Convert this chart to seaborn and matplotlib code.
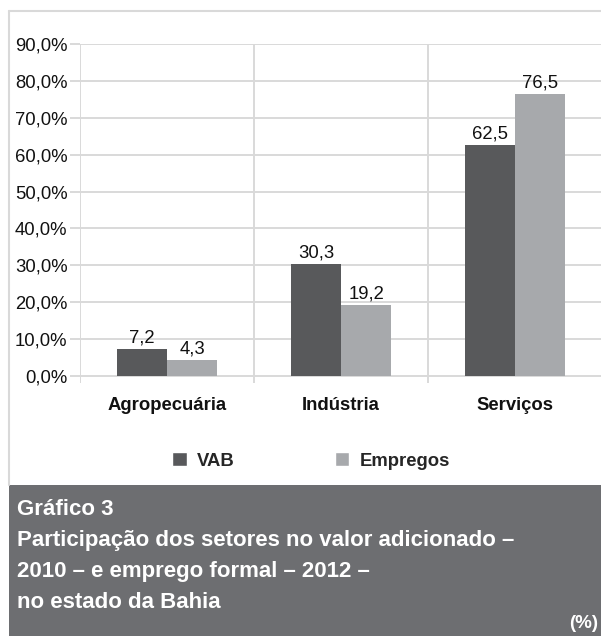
"""Participação dos setores no VAB e no emprego formal - Bahia."""

import matplotlib

matplotlib.use("Agg")
import matplotlib.pyplot as plt
import pandas as pd
import seaborn as sns
from matplotlib.lines import Line2D
from matplotlib.patches import Patch, Rectangle

sectors = ["Agropecuária", "Indústria", "Serviços"]
vab = [7.2, 30.3, 62.5]
empregos = [4.3, 19.2, 76.5]
series_names = ["VAB", "Empregos"]
y_ticks = [0, 10, 20, 30, 40, 50, 60, 70, 80, 90]

DARK = "#58595b"
LIGHT = "#a7a9ac"
GRID = "#d9d9d9"
BOX = "#6d6e71"
W, H = 601, 636

sns.set_theme(style="white")
plt.rcParams["font.family"] = ["Liberation Sans", "DejaVu Sans"]

frame = pd.DataFrame(
    {
        "setor": sectors * 2,
        "serie": [series_names[0]] * 3 + [series_names[1]] * 3,
        "valor": vab + empregos,
    }
)

fig = plt.figure(figsize=(W / 100, H / 100), dpi=100)
ax = fig.add_axes([80 / W, (H - 383) / H, 522 / W, (383 - 44) / H])

sns.barplot(
    data=frame, x="setor", y="valor", hue="serie", order=sectors,
    hue_order=series_names, palette=[DARK, LIGHT], width=0.575,
    saturation=1, ax=ax, legend=False, linewidth=0,
)

for container in ax.containers:
    labels = [f"{b.get_height():.1f}".replace(".", ",") for b in container]
    ax.bar_label(container, labels=labels, padding=2, fontsize=13.3, color="#111111")

ax.set_ylim(-1.9, 90)
ax.set_xlim(-0.5, 2.5)
ax.set_yticks(y_ticks)
ax.set_yticklabels([f"{t:.1f}%".replace(".", ",") for t in y_ticks])
for t in y_ticks:
    ax.axhline(t, color=GRID, lw=1.4, zorder=0)
for x in [-0.5, 0.5, 1.5, 2.5]:
    ax.axvline(x, color=GRID, lw=1.4, zorder=0)
for spine in ax.spines.values():
    spine.set_visible(False)

ax.tick_params(axis="y", length=7, width=1.4, color=GRID, labelsize=13.3,
               labelcolor="#111111", pad=2, left=True)
ax.tick_params(axis="x", length=0, pad=10, labelsize=13.3, labelcolor="#111111")
for label in ax.get_xticklabels():
    label.set_fontweight("bold")
ax.set_xlabel("")
ax.set_ylabel("")

# legend
handles = [Patch(facecolor=DARK), Patch(facecolor=LIGHT)]
fig.legend(
    handles, series_names, loc="center", bbox_to_anchor=(311 / W, 1 - 461 / H),
    ncol=2, frameon=False, handlelength=0.8, handleheight=0.8,
    handletextpad=0.55, columnspacing=5.4, prop={"weight": "bold", "size": 13.3},
)

# outer frame and caption box
fig.add_artist(Line2D([9 / W, 1], [1 - 11 / H] * 2, color=GRID, lw=1.5,
                      transform=fig.transFigure))
fig.add_artist(Line2D([9 / W] * 2, [1 - 11 / H, 1 - 485 / H], color=GRID, lw=1.5,
                      transform=fig.transFigure))
fig.add_artist(Rectangle((9 / W, 0), 1 - 9 / W, 1 - 485 / H, facecolor=BOX,
                         edgecolor="none", transform=fig.transFigure))

caption = [
    "Gráfico 3",
    "Participação dos setores no valor adicionado –",
    "2010 – e emprego formal – 2012 –",
    "no estado da Bahia",
]
for i, line in enumerate(caption):
    fig.text(17 / W, 1 - (515 + 31 * i) / H, line, color="white", fontsize=16,
             fontweight="bold", va="baseline", ha="left")
fig.text(598 / W, 1 - 628 / H, "(%)", color="white", fontsize=13.5,
         fontweight="bold", va="baseline", ha="right")

fig.savefig("out.png", dpi=100)
